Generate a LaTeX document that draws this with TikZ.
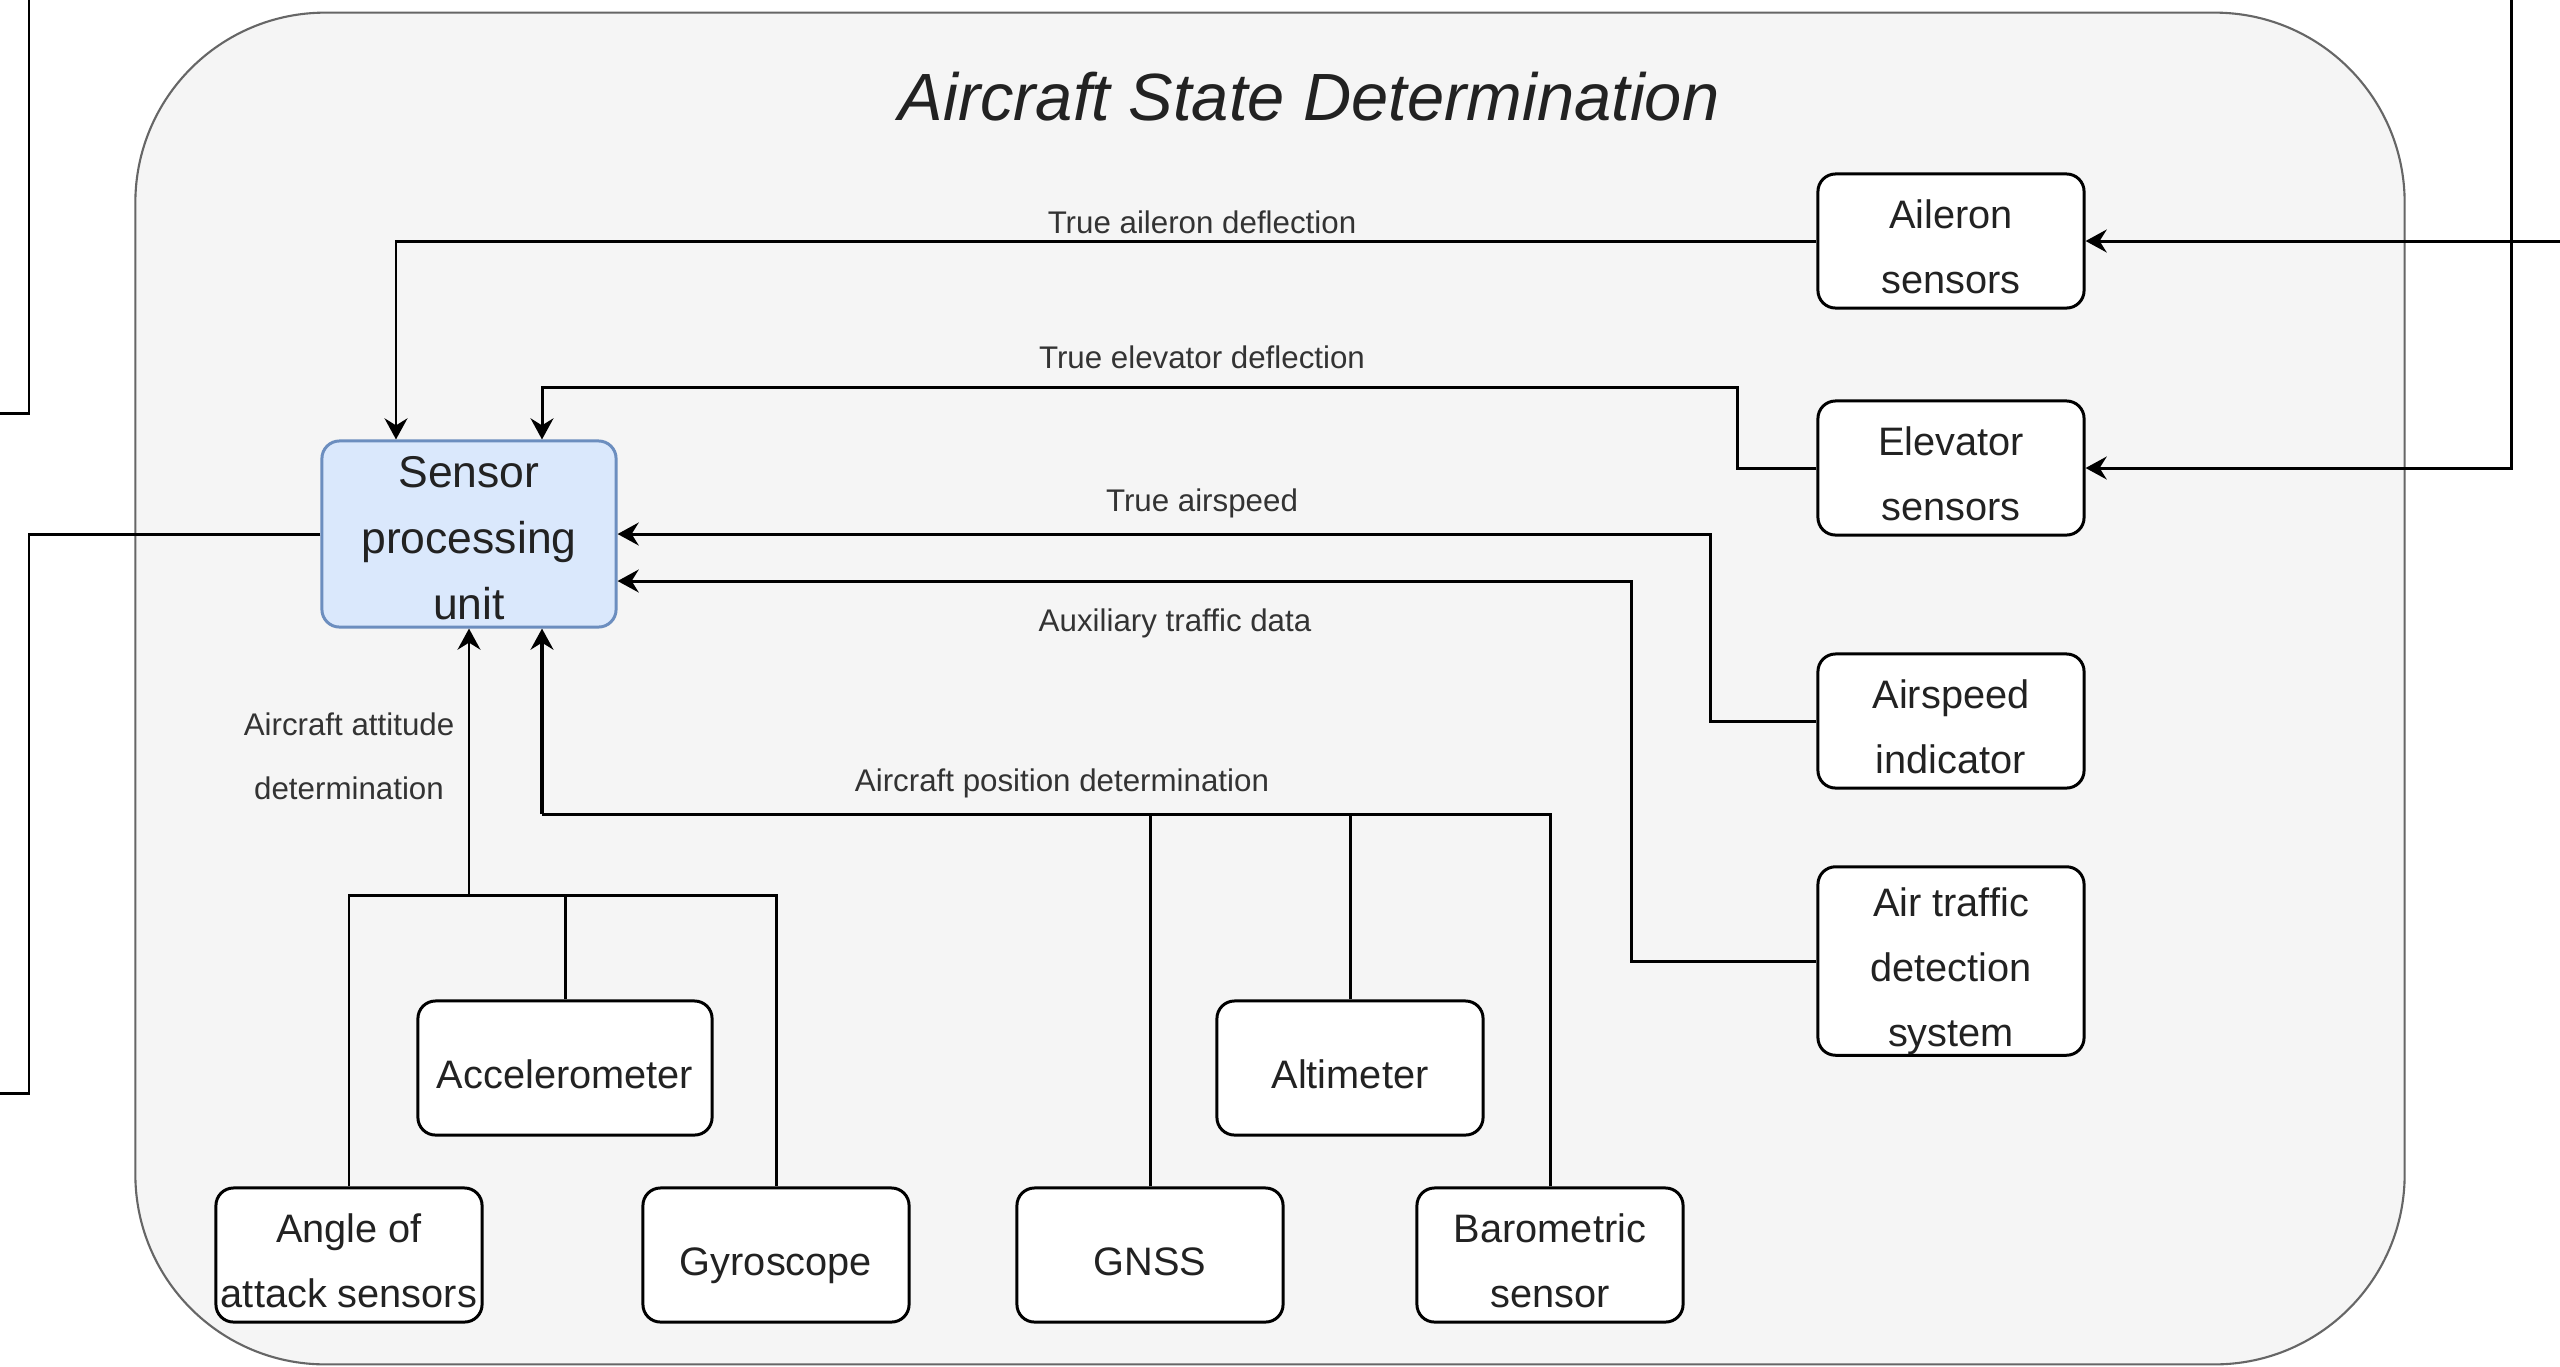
\documentclass[tikz,border=0pt]{standalone}
\usepackage{fontspec}
\setmainfont{Liberation Sans}
\usetikzlibrary{arrows.meta,calc}
\definecolor{contfill}{HTML}{F5F5F5}
\definecolor{contdraw}{HTML}{666666}
\definecolor{spufill}{HTML}{DAE8FC}
\definecolor{spudraw}{HTML}{6C8EBF}
\definecolor{txt}{HTML}{222222}
\definecolor{lbltxt}{HTML}{333333}
\newcommand{\topstrt}{\rule{0pt}{15.05pt}}
\newcommand{\botstrt}{\rule[-3.45pt]{0pt}{3.45pt}}
\newcommand{\atdtop}{\rule{0pt}{14.1pt}}
\newcommand{\atdbot}{\rule[-2.5pt]{0pt}{2.5pt}}
\newcommand{\sputop}{\rule{0pt}{13.1pt}}
\newcommand{\spubot}{\rule[-2.2pt]{0pt}{2.2pt}}
\begin{document}
\begin{tikzpicture}[x=0.01cm,y=-0.01cm,
  box/.style={draw=black, line width=0.85pt, fill=white, rounded corners=5pt, inner sep=0pt,
    align=center, text=txt, font=\fontsize{11.3pt}{18.5pt}\selectfont,
    minimum width=2.66cm, minimum height=1.34cm},
  conn/.style={line width=0.85pt, draw=black},
  arr/.style={conn, -{Stealth[length=6pt,width=6.5pt,inset=2pt]}},
  lbl/.style={text=lbltxt, font=\fontsize{8.9pt}{18.2pt}\selectfont, align=center, inner sep=0pt}]
\useasboundingbox (0,0) rectangle (2560,1366);
\fill[white] (0,0) rectangle (2560,1366);
% container
\node[draw=contdraw, fill=contfill, line width=0.6pt, rounded corners=1.9cm,
  minimum width=22.68cm, minimum height=13.51cm, inner sep=0pt] (cont) at (1270,688.5) {};
\node[text=txt, font=\fontsize{19pt}{22pt}\selectfont\itshape, inner sep=0pt] (title) at (1309,97) {Aircraft State Determination};
% nodes
\node[box, fill=spufill, draw=spudraw, minimum width=2.94cm, minimum height=1.86cm,
  font=\fontsize{12.65pt}{18.8pt}\selectfont] (spu) at (469,534) {\sputop Sensor\\processing\\unit\spubot};
\node[box] (ail) at (1951,241) {\topstrt Aileron\\sensors\botstrt};
\node[box] (elev) at (1951,468) {\topstrt Elevator\\sensors\botstrt};
\node[box] (asi) at (1951,721) {\topstrt Airspeed\\indicator\botstrt};
\node[box, minimum height=1.88cm] (atd) at (1951,961) {\atdtop Air traffic\\detection\\system\atdbot};
\node[box] (aoa) at (349,1255) {\topstrt Angle of\\attack sensors\botstrt};
\node[box, minimum width=2.94cm] (acc) at (565,1068) {\topstrt Accelerometer\botstrt};
\node[box] (gyro) at (776,1255) {\topstrt Gyroscope\botstrt};
\node[box] (gnss) at (1150,1255) {\topstrt GNSS\botstrt};
\node[box] (alt) at (1350,1068) {\topstrt Altimeter\botstrt};
\node[box] (baro) at (1550,1255) {\topstrt Barometric\\sensor\botstrt};
% labels
\node[lbl] (lA) at (1202,222) {True aileron deflection};
\node[lbl] (lE) at (1202,357) {True elevator deflection};
\node[lbl] (lS) at (1202,503) {True airspeed};
\node[lbl] (lT) at (1175,623) {Auxiliary traffic data};
\node[lbl] (lP) at (1062,783) {Aircraft position determination};
\node[lbl] (lAt) at (349,756) {Aircraft attitude\\determination};
% connectors into SPU
\draw[arr] (ail.west) -| ($(spu.north)+(-73,0)$);
\draw[arr] (elev.west) -| (1737,387) -| ($(spu.north)+(73,0)$);
\draw[arr] (asi.west) -| (1710,534) -- (spu.east);
\draw[arr] (atd.west) -| (1631,581) -- ($(spu.east)+(0,47)$);
% external inputs
\coordinate (inA) at (2560,241);
\draw[arr] (inA) -- (ail.east);
\coordinate (inE) at (2511,0);
\draw[arr] (inE) |- (elev.east);
% external outputs on the left
\coordinate (topA) at (29,0);
\coordinate (topB) at (0,413);
\draw[conn] (topA) |- (topB);
\coordinate (outB) at (0,1093);
\draw[conn] (spu.west) -| (29,1093) -- (outB);
% attitude group
\coordinate (attbus) at (469,895);
\draw[conn] (aoa.north) |- (attbus) -| (gyro.north);
\draw[conn] (acc.north) -- (acc.north |- attbus);
\draw[arr] (attbus) -- (spu.south);
% position group
\coordinate (posbus) at (542,814);
\draw[conn] (baro.north) |- (gnss.north |- posbus);
\draw[conn] (alt.north) -- (alt.north |- posbus);
\draw[conn] (gnss.north) |- (posbus);
\draw[arr, line width=1.4pt] (posbus) -- ($(spu.south)+(73,0)$);
\end{tikzpicture}
\end{document}
